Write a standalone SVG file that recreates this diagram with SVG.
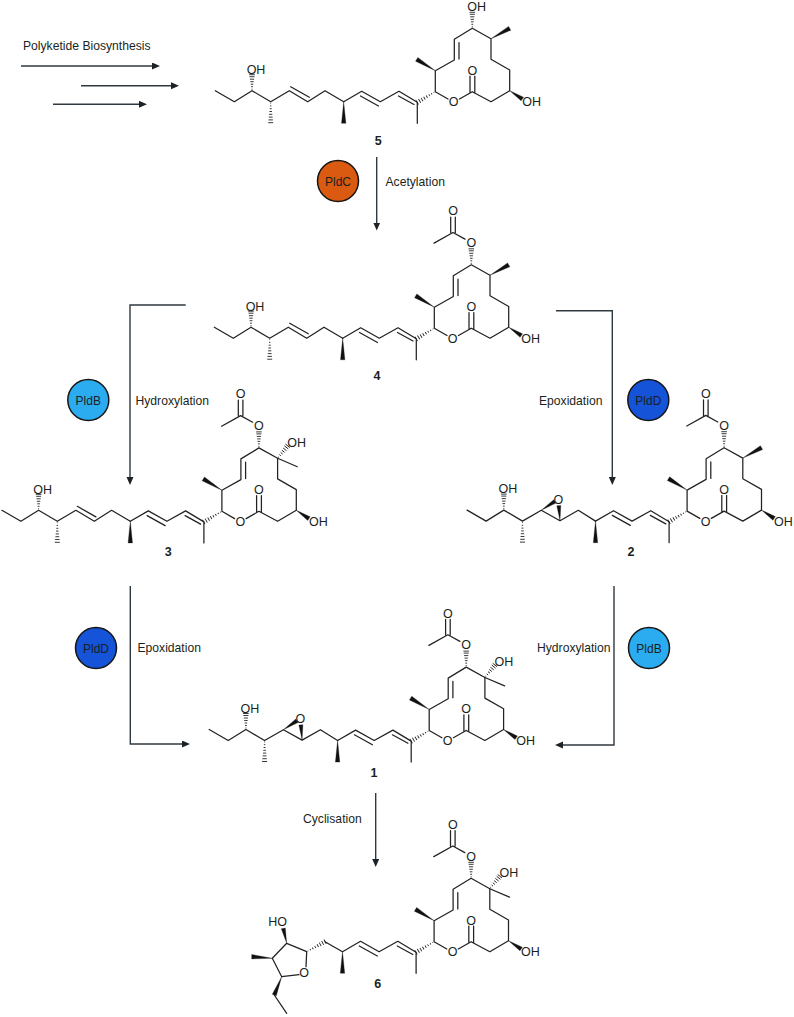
<svg xmlns="http://www.w3.org/2000/svg" width="794" height="1017" viewBox="0 0 794 1017">
<style>
text{font-family:"Liberation Sans",Arial,sans-serif;fill:#1a1f21}
.a{font-size:12.5px;text-anchor:middle}
.n{font-size:12.5px;font-weight:bold;text-anchor:middle}
.l{font-size:12.15px}
.e{font-size:12px;text-anchor:middle}
.b{fill:none;stroke:#222;stroke-width:1.25;stroke-linejoin:round;stroke-linecap:round}
.w{fill:#111;stroke:#111;stroke-width:.3;stroke-linejoin:round}
.h{fill:none;stroke:#222;stroke-width:.9}
.r{fill:none;stroke:#2f3a40;stroke-width:1.4;stroke-linejoin:miter}
.c{stroke:#161616;stroke-width:1.5}
</style>
<defs>
<marker id="ah" markerUnits="userSpaceOnUse" markerWidth="10" markerHeight="8" refX="4" refY="3.5" orient="auto"><path d="M0,0L8,3.5L0,7z" fill="#1c2226"/></marker>
<path id="hash16" class="h" d="M-.5,-1.5h1M-.9,-4h1.8M-1.3,-6.5h2.6M-1.7,-9h3.4M-2.1,-11.5h4.2M-2.5,-14h5M-2.8,-16h5.6"/>
<path id="hash22" class="h" d="M-.4,-1.5h.8M-.7,-4.2h1.4M-1,-7h2M-1.3,-9.8h2.6M-1.6,-12.6h3.2M-1.9,-15.4h3.8M-2.2,-18.2h4.4M-2.5,-21h5"/>
<g id="macro">
<path class="b" d="M343.7,101.7L361.7,91.3L380.3,101.7L399,91.3L417.3,102.3V123.3M360.5,96L378.5,106M398.5,96L414,104.5"/>
<path class="b" d="M435.3,91.7L448,99M459.5,99L472.3,91.7L491,101.7L509.7,90.7V70L491,59.3V38.7L472.3,28.3L454.3,39.3V60L435.3,70.7V91.7M459,42.5V59M470,92.5V76M474.8,92.5V76"/>
<use href="#hash22" transform="translate(435.3,91.7) rotate(-120.5)"/>
<polygon class="w" points="435.3,70.7 417.85,57.4 415.55,61.2"/>
<polygon class="w" points="509.7,90.7 523.5,97.2 521.1,100.8"/>
<polygon class="w" points="343.7,101.7 341.5,123.3 345.9,123.3"/>
</g>
<g id="tail-alkene">
<path class="b" d="M215.3,90.7L234.3,101.7L252,90.7L270.7,101.7L289.3,90.7L307.7,101.7L325,90.7L343.7,101.7M290.7,86.7L309.3,97.3"/>
<use href="#hash16" transform="translate(252,90.7)"/>
<use href="#hash22" transform="translate(270.7,101.7) rotate(180)"/>
</g>
<g id="tail-epoxide">
<path class="b" d="M215.3,90.7L234.3,101.7L252,90.7L270.7,101.7L289.5,90.9L308.2,101.3L326.5,90.9L343.7,101.7"/>
<use href="#hash16" transform="translate(252,90.7)"/>
<use href="#hash22" transform="translate(270.7,101.7) rotate(180)"/>
<polygon class="w" points="289.5,90.9 304.1,83.7 301.9,80.3"/>
<polygon class="w" points="308.2,101.3 305,86.3 309,86"/>
</g>
<g id="tail-furan">
<path class="b" d="M326.2,91.7L343.7,101.7M307.2,116.7L307.9,101.7L287.9,93.3L273.5,108.3L282.9,126.7L300.2,124.7M275.5,145L287.9,163.3"/>
<use href="#hash22" transform="translate(307.9,101.7) rotate(61.3)"/>
<polygon class="w" points="287.9,93.3 286.5,78 282.5,78.8"/>
<polygon class="w" points="273.5,108.3 252.9,104.5 252.9,108.9"/>
<polygon class="w" points="282.9,126.7 277.5,145.8 273.5,144.2"/>
</g>
<g id="top-oh"><use href="#hash16" transform="translate(472.3,28.3)"/></g>
<g id="top-oac">
<use href="#hash16" transform="translate(472.3,28.3)"/>
<path class="b" d="M466,2.6L454,-4L435,6.6M451.7,-4V-19.5M456.3,-4V-19.5"/>
</g>
<polygon id="me-up" class="w" points="491,38.7 510.8,30.2 508.6,26.4"/>
<g id="c-oh-me">
<path class="b" d="M491,38.7L510.7,47.1"/>
<use href="#hash16" transform="translate(491,38.7) rotate(38.8)"/>
</g>
</defs>
<g id="connectors">
<path class="r" marker-end="url(#ah)" d="M21,66H156"/>
<path class="r" marker-end="url(#ah)" d="M81,85.7H175"/>
<path class="r" marker-end="url(#ah)" d="M53,104.3H143"/>
<path class="r" marker-end="url(#ah)" d="M376.7,157V226.5"/>
<path class="r" marker-end="url(#ah)" d="M185.7,305H130V481"/>
<path class="r" marker-end="url(#ah)" d="M556,310.7H612.3V481"/>
<path class="r" marker-end="url(#ah)" d="M130.3,586V744H186"/>
<path class="r" marker-end="url(#ah)" d="M614,586V745H559"/>
<path class="r" marker-end="url(#ah)" d="M375.7,793V863"/>
</g>
<g id="labels">
<text class="l" x="23" y="50">Polyketide Biosynthesis</text>
<text class="l" x="385.5" y="185.5">Acetylation</text>
<text class="l" x="135.5" y="404.5">Hydroxylation</text>
<text class="l" x="539" y="404.5">Epoxidation</text>
<text class="l" x="137.5" y="652">Epoxidation</text>
<text class="l" x="537" y="651.5">Hydroxylation</text>
<text class="l" x="303" y="823">Cyclisation</text>
</g>
<g id="enzyme-pldc"><circle class="c" cx="338" cy="181" r="20.5" fill="#d95a10"/><text class="e" x="338" y="185.5">PldC</text></g>
<g id="enzyme-pldb-1"><circle class="c" cx="88.3" cy="400" r="20.5" fill="#2cacf0"/><text class="e" x="88.3" y="404.5">PldB</text></g>
<g id="enzyme-pldd-1"><circle class="c" cx="648.3" cy="400" r="20.5" fill="#1553d8"/><text class="e" x="648.3" y="404.5">PldD</text></g>
<g id="enzyme-pldd-2"><circle class="c" cx="96" cy="648" r="20.5" fill="#1553d8"/><text class="e" x="96" y="652.5">PldD</text></g>
<g id="enzyme-pldb-2"><circle class="c" cx="649" cy="648" r="20.5" fill="#2cacf0"/><text class="e" x="649" y="652.5">PldB</text></g>

<g id="compound-5">
<use href="#tail-alkene"/><use href="#macro"/><use href="#top-oh"/><use href="#me-up"/>
<text class="a" x="256" y="74">OH</text><text class="a" x="453.7" y="106.2">O</text><text class="a" x="472.3" y="74.5">O</text><text class="a" x="531.7" y="106.2">OH</text><text class="a" x="476.7" y="10.5">OH</text>
<text class="n" x="378.3" y="144.5">5</text>
</g>
<g id="compound-4" transform="translate(-1,236.5)">
<use href="#tail-alkene"/><use href="#macro"/><use href="#top-oac"/><use href="#me-up"/>
<text class="a" x="256" y="74">OH</text><text class="a" x="453.7" y="106.2">O</text><text class="a" x="472.3" y="74.5">O</text><text class="a" x="531.7" y="106.2">OH</text><text class="a" x="472.3" y="10.5">O</text><text class="a" x="454" y="-21.2">O</text>
<text class="n" x="378" y="143">4</text>
</g>
<g id="compound-3" transform="translate(-213.4,419.6)">
<use href="#tail-alkene"/><use href="#macro"/><use href="#top-oac"/><use href="#c-oh-me"/>
<text class="a" x="256" y="74">OH</text><text class="a" x="453.7" y="106.2">O</text><text class="a" x="472.3" y="74.5">O</text><text class="a" x="531.7" y="106.2">OH</text><text class="a" x="472.3" y="10.5">O</text><text class="a" x="454" y="-21.2">O</text><text class="a" x="510" y="27.2">OH</text>
<text class="n" x="381.7" y="136.6">3</text>
</g>
<g id="compound-2" transform="translate(251.8,419.4)">
<use href="#tail-epoxide"/><use href="#macro"/><use href="#top-oac"/><use href="#me-up"/>
<text class="a" x="256" y="74">OH</text><text class="a" x="306.5" y="84.5">O</text><text class="a" x="453.7" y="106.2">O</text><text class="a" x="472.3" y="74.5">O</text><text class="a" x="531.7" y="106.2">OH</text><text class="a" x="472.3" y="10.5">O</text><text class="a" x="454" y="-21.2">O</text>
<text class="n" x="379.2" y="136.8">2</text>
</g>
<g id="compound-1" transform="translate(-6.1,638.8)">
<use href="#tail-epoxide"/><use href="#macro"/><use href="#top-oac"/><use href="#c-oh-me"/>
<text class="a" x="256" y="74">OH</text><text class="a" x="306.5" y="84.5">O</text><text class="a" x="453.7" y="106.2">O</text><text class="a" x="472.3" y="74.5">O</text><text class="a" x="531.7" y="106.2">OH</text><text class="a" x="472.3" y="10.5">O</text><text class="a" x="454" y="-21.2">O</text><text class="a" x="510" y="27.2">OH</text>
<text class="n" x="380.1" y="138">1</text>
</g>
<g id="compound-6" transform="translate(-1.2,850)">
<use href="#tail-furan"/><use href="#macro"/><use href="#top-oac"/><use href="#c-oh-me"/>
<text class="a" x="278.9" y="76.2">HO</text><text class="a" x="305.2" y="127.2">O</text><text class="a" x="453.7" y="106.2">O</text><text class="a" x="472.3" y="74.5">O</text><text class="a" x="531.7" y="106.2">OH</text><text class="a" x="472.3" y="10.5">O</text><text class="a" x="454" y="-21.2">O</text><text class="a" x="510" y="27.2">OH</text>
<text class="n" x="378.9" y="137.8">6</text>
</g>
</svg>
